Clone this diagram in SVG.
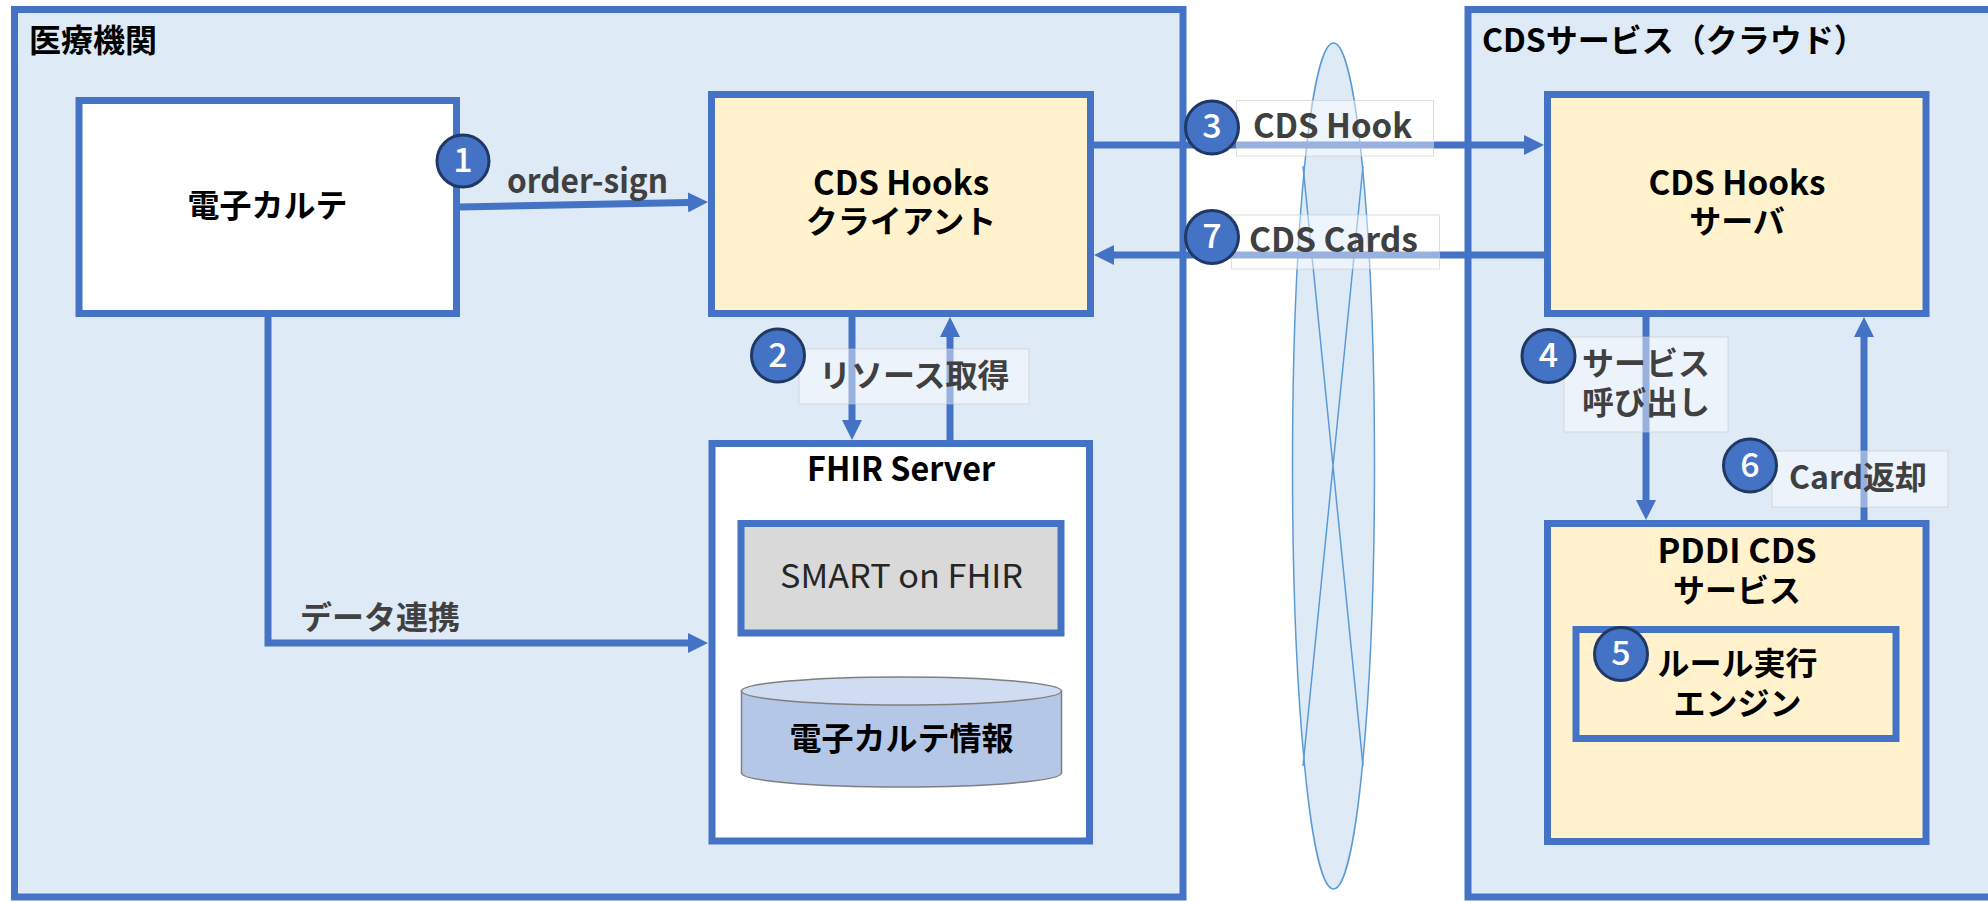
<svg xmlns="http://www.w3.org/2000/svg" width="1988" height="902" viewBox="0 0 1988 902">
  <style>
    .zone { fill: #DEEAF6; stroke: #4472C4; stroke-width: 7; }
    .box { stroke: #4472C4; stroke-width: 7; }
    .white { fill: #FFFFFF; }
    .cream { fill: #FFF2CC; }
    .grey { fill: #D9D9D9; }
    .t { font-family: "Noto Sans CJK JP", "Noto Sans", sans-serif; font-weight: bold; font-size: 32px; fill: #000000; }
    .lat { font-size: 33px; }
    .mid { text-anchor: middle; }
    .lbl { fill: #404040; }
    .reg { font-weight: normal; fill: #262626; }
    .wire { fill: none; stroke: #4472C4; stroke-width: 7; }
    .tag { fill: #FFFFFF; fill-opacity: 0.45; stroke: #C8C8C8; stroke-opacity: 0.6; stroke-width: 1; }
    .badge circle { fill: #4472C4; stroke: #1F3864; stroke-width: 3; }
    .badge text { font-family: "Noto Sans CJK JP", "Noto Sans", sans-serif; font-size: 34px; fill: #FFFFFF; text-anchor: middle; font-weight: 500; }
  </style>
  <defs>
    <marker id="head" viewBox="0 0 20 20" refX="1" refY="10" markerWidth="20" markerHeight="20" markerUnits="userSpaceOnUse" orient="auto">
      <path d="M0,0 L20,10 L0,20 Z" fill="#4472C4"/>
    </marker>
  </defs>

  <rect width="1988" height="902" fill="#FFFFFF"/>

  <!-- hospital zone -->
  <g id="hospital">
    <rect class="zone" x="14.5" y="9.5" width="1168.5" height="887.5"/>
    <text class="t" x="29" y="52">医療機関</text>
  </g>

  <!-- cloud zone (runs off the right edge) -->
  <g id="cloud">
    <rect class="zone" x="1468" y="9.5" width="600" height="887.5"/>
    <text class="t" x="1482" y="52">CDSサービス（クラウド）</text>
  </g>

  <!-- network tube between the zones -->
  <g id="network">
    <ellipse cx="1333.5" cy="466" rx="41" ry="423" fill="#DEEBF7" stroke="#5B9BD5" stroke-width="1.5"/>
    <path d="M1303,166 L1363,766 M1363,166 L1303,766" fill="none" stroke="#5B9BD5" stroke-width="1.5"/>
  </g>

  <g id="emr">
    <rect class="box white" x="79" y="100.5" width="377.5" height="213"/>
    <text class="t mid" x="267.5" y="217">電子カルテ</text>
  </g>

  <g id="cds-client">
    <rect class="box cream" x="711.5" y="94.5" width="379" height="219"/>
    <text class="t lat mid" x="901" y="195" textLength="176" lengthAdjust="spacingAndGlyphs">CDS Hooks</text>
    <text class="t mid" x="901" y="233">クライアント</text>
  </g>

  <g id="fhir-server">
    <rect class="box white" x="712" y="443.5" width="377.5" height="397.5"/>
    <text class="t lat mid" x="901" y="481" textLength="188" lengthAdjust="spacingAndGlyphs">FHIR Server</text>
  </g>

  <g id="smart-on-fhir">
    <rect class="box grey" x="741" y="523.5" width="320" height="109.5"/>
    <text class="t lat reg mid" x="901.5" y="588" textLength="243" lengthAdjust="spacingAndGlyphs">SMART on FHIR</text>
  </g>

  <g id="emr-data">
    <path d="M741.5,691 V773 A160,14 0 0 0 1061.5,773 V691 Z" fill="#B4C7E7" stroke="#7F7F7F" stroke-width="1.5"/>
    <ellipse cx="901.5" cy="691" rx="160" ry="14" fill="#D0DCF1" stroke="#7F7F7F" stroke-width="1.5"/>
    <text class="t mid" x="901.5" y="749.5">電子カルテ情報</text>
  </g>

  <g id="cds-server">
    <rect class="box cream" x="1547.5" y="94.5" width="378.5" height="219"/>
    <text class="t lat mid" x="1737" y="195" textLength="177" lengthAdjust="spacingAndGlyphs">CDS Hooks</text>
    <text class="t mid" x="1737" y="232.5">サーバ</text>
  </g>

  <g id="pddi-service">
    <rect class="box cream" x="1547.5" y="523.5" width="378.5" height="318"/>
    <text class="t lat mid" x="1737" y="563" textLength="159" lengthAdjust="spacingAndGlyphs">PDDI CDS</text>
    <text class="t mid" x="1737" y="601.5">サービス</text>
  </g>

  <g id="rule-engine">
    <rect class="box cream" x="1576" y="629.5" width="320" height="109"/>
    <text class="t mid" x="1737.5" y="675">ルール実行</text>
    <text class="t mid" x="1737.5" y="714.5">エンジン</text>
  </g>

  <!-- connectors -->
  <g id="connectors">
    <path class="wire" d="M460,207 L689,202.4" marker-end="url(#head)"/>
    <path class="wire" d="M852,317 V421" marker-end="url(#head)"/>
    <path class="wire" d="M950,440 V336" marker-end="url(#head)"/>
    <path class="wire" d="M1094,145 H1525" marker-end="url(#head)"/>
    <path class="wire" d="M1544,255 H1113" marker-end="url(#head)"/>
    <path class="wire" d="M1646,317 V501" marker-end="url(#head)"/>
    <path class="wire" d="M1864,520 V336" marker-end="url(#head)"/>
    <path class="wire" d="M268,317 V643 H689" marker-end="url(#head)"/>
  </g>

  <!-- connector labels -->
  <g id="labels">
    <text class="t lat lbl" x="507" y="193" textLength="161" lengthAdjust="spacingAndGlyphs">order-sign</text>
    <text class="t lbl" x="300" y="628.5">データ連携</text>

    <rect class="tag" x="1236.5" y="100.5" width="197" height="55.5"/>
    <text class="t lat lbl" x="1253" y="138" textLength="159" lengthAdjust="spacingAndGlyphs">CDS Hook</text>

    <rect class="tag" x="1231.5" y="215" width="208" height="54"/>
    <text class="t lat lbl" x="1249" y="252" textLength="169" lengthAdjust="spacingAndGlyphs">CDS Cards</text>

    <rect class="tag" x="799" y="349" width="230" height="55"/>
    <text class="t lbl" x="819" y="386.5">リソース取得</text>

    <rect class="tag" x="1564" y="337" width="164" height="95"/>
    <text class="t lbl mid" x="1646" y="374.5">サービス</text>
    <text class="t lbl mid" x="1646" y="413.5">呼び出し</text>

    <rect class="tag" x="1772" y="451" width="176" height="56"/>
    <text class="t lbl" x="1789" y="488.5">Card返却</text>
  </g>

  <!-- step numbers -->
  <g id="steps">
    <g class="badge"><circle cx="463" cy="161" r="26"/><text x="463" y="172">1</text></g>
    <g class="badge"><circle cx="778" cy="355.5" r="26.5"/><text x="778" y="366.5">2</text></g>
    <g class="badge"><circle cx="1212" cy="127.5" r="26.5"/><text x="1212" y="137.5">3</text></g>
    <g class="badge"><circle cx="1548.5" cy="356" r="26.5"/><text x="1548.5" y="367">4</text></g>
    <g class="badge"><circle cx="1621" cy="654" r="26.5"/><text x="1621" y="665">5</text></g>
    <g class="badge"><circle cx="1750" cy="465.5" r="26.5"/><text x="1750" y="476.5">6</text></g>
    <g class="badge"><circle cx="1212" cy="237" r="26.5"/><text x="1212" y="248">7</text></g>
  </g>
</svg>
